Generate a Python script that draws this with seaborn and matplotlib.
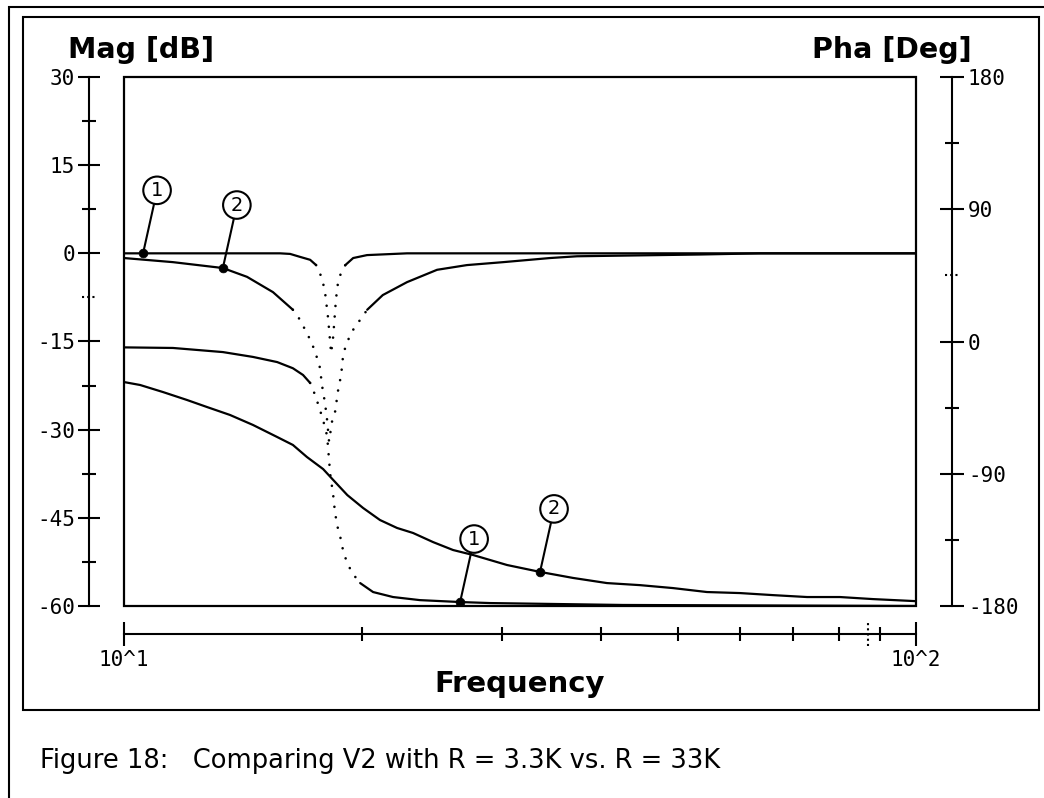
import numpy as np
import matplotlib
matplotlib.use("Agg")
import matplotlib.pyplot as plt
import seaborn as sns
from matplotlib.patches import Rectangle
from matplotlib.ticker import FixedLocator, NullFormatter

# magnitude curves (dB)
mag1_freq = [10.0, 12.47, 15.74, 16.21, 16.68, 17.18, 17.48, 17.78, 17.94, 18.10, 18.26,
             18.37, 18.52, 18.64, 18.80, 19.03, 19.47, 20.27, 22.77, 39.9, 100.0]
mag1_db = [0.0, 0.0, 0.0, -0.1, -0.6, -1.1, -2.0, -4.2, -6.6, -11.0, -17.0,
           -14.2, -7.8, -4.7, -3.3, -2.0, -0.8, -0.3, 0.0, 0.0, 0.0]

mag2_freq = [10.0, 11.53, 13.33, 14.30, 15.42, 16.34, 16.68, 17.02, 17.27, 17.53, 17.68,
             17.78, 17.94, 18.05, 18.15, 18.32, 18.47, 18.64, 18.80, 18.92, 19.19, 19.47,
             20.28, 21.22, 22.77, 24.85, 27.10, 30.11, 34.50, 37.33, 53.31, 63.53, 100.0]
mag2_db = [-0.8, -1.5, -2.5, -4.0, -6.6, -9.6, -11.3, -13.6, -15.3, -17.8, -19.5,
           -22.4, -25.5, -28.4, -32.0, -28.4, -27.0, -23.2, -20.7, -17.0, -14.7, -13.0,
           -9.6, -7.1, -4.9, -2.8, -2.0, -1.5, -0.8, -0.5, -0.2, 0.0, 0.0]

# phase curves (deg)
pha1_freq = [10.0, 11.53, 13.33, 14.55, 15.61, 16.34, 16.83, 17.18, 17.43, 17.63, 17.84,
             18.05, 18.21, 18.37, 18.47, 18.64, 18.80, 18.92, 19.14, 19.41, 19.87, 20.63,
             21.86, 23.64, 26.57, 28.98, 42.66, 100.0]
pha1_deg = [-4.0, -4.4, -7.2, -10.5, -14.0, -18.2, -22.8, -28.2, -36.4, -44.6, -53.5,
            -64.3, -90.0, -104.4, -116.7, -128.3, -135.2, -143.3, -150.7, -157.5, -164.4, -170.5,
            -173.9, -176.0, -177.3, -178.0, -179.3, -180.0]

pha2_freq = [10.0, 10.48, 11.20, 12.01, 12.73, 13.61, 14.55, 15.61, 16.34, 17.02, 17.84,
             18.37, 19.14, 20.04, 21.05, 22.12, 23.17, 24.56, 26.03, 27.59, 30.45, 33.52,
             36.89, 40.72, 44.82, 49.33, 54.46, 59.95, 65.99, 72.86, 80.17, 88.25, 100.0]
pha2_deg = [-27.6, -29.6, -34.4, -39.8, -44.6, -50.0, -56.8, -65.0, -70.4, -78.6, -86.8,
            -94.2, -104.5, -113.3, -121.5, -126.9, -130.3, -136.5, -141.9, -145.3, -152.1, -156.8,
            -160.9, -164.4, -165.8, -167.8, -170.5, -171.2, -172.6, -173.9, -173.9, -175.3, -176.7]

# cursor markers with their labels
mag_mark_freq = [10.57, 13.33]
mag_mark_db = [0.0, -2.5]
pha_mark_freq = [26.57, 33.52]
pha_mark_deg = [-177.3, -156.8]
mark_labels = ["1", "2"]

mag_ticks = [30, 15, 0, -15, -30, -45, -60]
mag_minor = [22.5, 7.5, -22.5, -37.5, -52.5]
pha_ticks = [180, 90, 0, -90, -180]
pha_minor = [135, -45, -135]
freq_ticks = [10, 100]
freq_ticklabels = ["10^1", "10^2"]
freq_minor = [20, 30, 40, 50, 60, 70, 80, 90]
cursor_db, cursor_deg, cursor_freq = -7.5, 45, 87

sns.set_style("white")
plt.rcParams['font.family'] = ['DejaVu Sans']
plt.rcParams['text.color'] = 'black'
plt.rcParams['xtick.color'] = 'black'
plt.rcParams['ytick.color'] = 'black'
plt.rcParams['axes.labelcolor'] = 'black'

W, H = 1044, 798
fig = plt.figure(figsize=(W / 100, H / 100), dpi=100)

# outer and inner frames
fig.add_artist(Rectangle((9 / W, -0.2), 1.2, 1.2 - 7 / H, transform=fig.transFigure,
                         fill=False, ec='black', lw=1.5))
fig.add_artist(Rectangle((23 / W, 1 - 710 / H), (1039 - 23) / W, (710 - 17) / H,
                         transform=fig.transFigure, fill=False, ec='black', lw=1.5))

ax = fig.add_axes([124 / W, 1 - 606 / H, 792 / W, 529 / H])
ax2 = ax.twinx()

ax.set_xscale('log')
ax.set_xlim(10, 100)
ax.set_ylim(-60, 30)
ax2.set_ylim(-180, 180)

for s in ['top', 'right']:
    ax.spines[s].set_visible(False)
for s in ['top', 'left', 'bottom']:
    ax2.spines[s].set_visible(False)
ax.spines['left'].set_position(('outward', 35 * 0.72))
ax.spines['bottom'].set_position(('outward', 28 * 0.72))
ax2.spines['right'].set_position(('outward', 36 * 0.72))
for sp in [ax.spines['left'], ax.spines['bottom'], ax2.spines['right']]:
    sp.set_linewidth(1.5)
    sp.set_color('black')

ax.add_patch(Rectangle((0, 0), 1, 1, transform=ax.transAxes, fill=False,
                       ec='black', lw=1.6, clip_on=False, zorder=1))

tickfont = dict(family='DejaVu Sans Mono', size=15)
ax.set_yticks(mag_ticks)
ax.set_yticklabels([str(t) for t in mag_ticks], **tickfont)
ax.yaxis.set_minor_locator(FixedLocator(mag_minor))
ax2.set_yticks(pha_ticks)
ax2.set_yticklabels([str(t) for t in pha_ticks], **tickfont)
ax2.yaxis.set_minor_locator(FixedLocator(pha_minor))
ax.set_xticks(freq_ticks)
ax.set_xticklabels(freq_ticklabels, **tickfont)
ax.xaxis.set_minor_locator(FixedLocator(freq_minor))
ax.xaxis.set_minor_formatter(NullFormatter())

ax.tick_params(axis='y', which='major', direction='inout', length=16, width=1.5, pad=2, left=True)
ax.tick_params(axis='y', which='minor', direction='inout', length=9.5, width=1.5, left=True)
ax2.tick_params(axis='y', which='major', direction='inout', length=17, width=1.5, pad=3, right=True)
ax2.tick_params(axis='y', which='minor', direction='inout', length=9.5, width=1.5, right=True)
ax.tick_params(axis='x', which='major', direction='inout', length=17, width=1.5, pad=3, bottom=True)
ax.tick_params(axis='x', which='minor', direction='inout', length=10, width=1.5, bottom=True)
ax.set_xlabel("")
ax.set_ylabel("")
ax2.set_ylabel("")

# dotted cursor ticks
dot = dict(color='black', lw=1.5, ls=(0, (1, 1.5)), clip_on=False)
ax.plot([-42 / 792, -28 / 792], [cursor_db, cursor_db], transform=ax.get_yaxis_transform(), **dot)
ax2.plot([1 + 29 / 792, 1 + 43 / 792], [cursor_deg, cursor_deg], transform=ax2.get_yaxis_transform(), **dot)
ax.plot([cursor_freq, cursor_freq], [-40 / 529, -16 / 529], transform=ax.get_xaxis_transform(), **dot)


def draw_curve(a, freq, vals, thresh=1.25):
    freq = np.asarray(freq)
    vals = np.asarray(vals)
    pts = a.transData.transform(np.column_stack([freq, vals]))
    d = np.diff(pts, axis=0)
    steep = np.abs(d[:, 1]) > thresh * np.abs(d[:, 0])
    start = 0
    for i in range(1, len(steep) + 1):
        if i == len(steep) or steep[i] != steep[start]:
            seg = slice(start, i + 1)
            if steep[start]:
                sns.lineplot(x=freq[seg], y=vals[seg], ax=a, color='black', estimator=None,
                             sort=False, lw=1.9, linestyle=(0, (0.01, 4.0)),
                             dash_capstyle='round', zorder=3)
            else:
                sns.lineplot(x=freq[seg], y=vals[seg], ax=a, color='black', estimator=None,
                             sort=False, lw=1.6, zorder=3)
            start = i


draw_curve(ax, mag1_freq, mag1_db)
draw_curve(ax, mag2_freq, mag2_db)
draw_curve(ax2, pha1_freq, pha1_deg)
draw_curve(ax2, pha2_freq, pha2_deg)

sns.scatterplot(x=mag_mark_freq, y=mag_mark_db, ax=ax, color='black', s=40, zorder=5, edgecolor='black')
sns.scatterplot(x=pha_mark_freq, y=pha_mark_deg, ax=ax2, color='black', s=40, zorder=5, edgecolor='black')

circ = dict(boxstyle='circle,pad=0.22', fc='white', ec='black', lw=1.5)
arr = dict(arrowstyle='-', lw=1.5, color='black', shrinkA=0, shrinkB=0)
for a, fx, fy in [(ax, mag_mark_freq, mag_mark_db), (ax2, pha_mark_freq, pha_mark_deg)]:
    for lab, xv, yv in zip(mark_labels, fx, fy):
        a.annotate(lab, xy=(xv, yv), xytext=(14, 63), textcoords='offset pixels',
                   ha='center', va='center', fontsize=14, bbox=circ, arrowprops=arr,
                   annotation_clip=False, zorder=6)

ax.set_ylim(-60, 30)
ax2.set_ylim(-180, 180)
ax.set_xlim(10, 100)

fig.text(68 / W, 1 - 58 / H, "Mag [dB]", fontsize=20.5, fontweight='bold', ha='left', va='baseline')
fig.text(972 / W, 1 - 58 / H, "Pha [Deg]", fontsize=20.5, fontweight='bold', ha='right', va='baseline')
fig.text(520 / W, 1 - 692 / H, "Frequency", fontsize=21, fontweight='bold', ha='center', va='baseline')
fig.text(40 / W, 1 - 768 / H, "Figure 18:   Comparing V2 with R = 3.3K vs. R = 33K",
         fontsize=18.5, ha='left', va='baseline', family=['DejaVu Sans'])

fig.savefig("out.png", dpi=100)
